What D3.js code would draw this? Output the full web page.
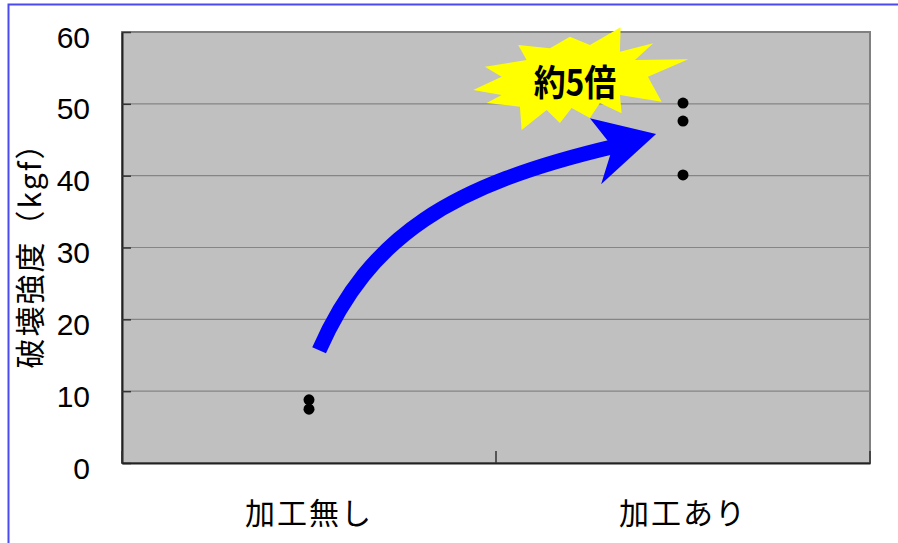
<!DOCTYPE html>
<html lang="ja">
<head>
<meta charset="utf-8">
<title>破壊強度</title>
<script src="https://cdn.jsdelivr.net/npm/d3@7/dist/d3.min.js"></script>
<style>
  html, body { margin: 0; padding: 0; background: #fff; }
  svg { display: block; }
</style>
</head>
<body>
<svg id="chart" width="898" height="543"></svg>
<script>
// Breaking strength (kgf) per sample, untreated vs. treated
const categories = ["加工無し", "加工あり"];
const untreated = [8.8, 7.5];
const treated = [50.1, 47.6, 40.1];
const yTicks = [0, 10, 20, 30, 40, 50, 60];
const yTitle = "破壊強度（kgf）";
const callout = "約5倍";

const svg = d3.select("#chart");
const W = 898, H = 543;
const plot = { left: 122, top: 32, right: 870, bottom: 463 };

const x = d3.scaleBand().domain(categories).range([plot.left, plot.right]);
// continuous position across the category axis (0..2) for annotations
const xu = d3.scaleLinear().domain([0, categories.length]).range([plot.left, plot.right]);
const y = d3.scaleLinear().domain([0, 60]).range([plot.bottom, plot.top]);

// outer frame
svg.append("path")
  .attr("d", `M8.5,${H} V4.5 H${W}`)
  .attr("fill", "none").attr("stroke", "#4a4aee").attr("stroke-width", 2);

// plot area
svg.append("rect")
  .attr("x", plot.left).attr("y", plot.top)
  .attr("width", plot.right - plot.left).attr("height", plot.bottom - plot.top)
  .attr("fill", "#c0c0c0").attr("stroke", "#808080").attr("stroke-width", 2);

// gridlines
svg.append("g").selectAll("line")
  .data(yTicks.filter(d => d > 0 && d < 60))
  .join("line")
  .attr("x1", plot.left).attr("x2", plot.right)
  .attr("y1", d => y(d)).attr("y2", d => y(d))
  .attr("stroke", "#858585").attr("stroke-width", 1.2);

// y axis (ticks point inward)
const yAxis = svg.append("g")
  .attr("transform", `translate(${plot.left},0)`)
  .call(d3.axisLeft(y).tickValues(yTicks).tickSizeInner(-9).tickSizeOuter(0).tickPadding(32));
yAxis.select(".domain").attr("stroke", "#222").attr("stroke-width", 2);
yAxis.selectAll(".tick line").attr("stroke", "#333").attr("stroke-width", 1.5);
yAxis.selectAll(".tick text")
  .attr("font-family", "'Liberation Sans', Arial, sans-serif")
  .attr("font-size", 30).attr("fill", "#000")
  .attr("dy", "0.5em");

// x axis (category boundaries marked inward)
const xAxis = svg.append("g")
  .attr("transform", `translate(0,${plot.bottom})`)
  .call(d3.axisBottom(x).tickSize(0).tickPadding(40));
xAxis.select(".domain").attr("stroke", "#222").attr("stroke-width", 2);
xAxis.selectAll(".tick text")
  .attr("font-family", "'Noto Sans CJK JP', sans-serif")
  .attr("font-size", 30).attr("fill", "#000")
  .attr("letter-spacing", 2);
svg.append("g").selectAll("line")
  .data(d3.range(categories.length + 1))
  .join("line")
  .attr("x1", d => xu(d)).attr("x2", d => xu(d))
  .attr("y1", plot.bottom).attr("y2", plot.bottom - 12)
  .attr("stroke", "#333").attr("stroke-width", 1.5);

// y axis title
svg.append("text")
  .attr("transform", `translate(41,248) rotate(-90)`)
  .attr("text-anchor", "middle")
  .attr("font-family", "'Noto Sans CJK JP', sans-serif")
  .attr("font-size", 30).attr("fill", "#000")
  .attr("letter-spacing", 2)
  .text(yTitle);

// sample points
const pts = [
  ...untreated.map(v => ({ c: categories[0], v })),
  ...treated.map(v => ({ c: categories[1], v }))
];
svg.append("g").selectAll("circle")
  .data(pts)
  .join("circle")
  .attr("cx", d => x(d.c) + x.bandwidth() / 2)
  .attr("cy", d => y(d.v))
  .attr("r", 5.5)
  .attr("fill", "#000");

// curved arrow: shaft (category units, kgf)
const shaft = [[0.527, 15.7], [0.663, 31.7], [0.877, 38.7], [1.318, 44.1]];
const sp = shaft.map(([u, v]) => [xu(u), y(v)]);
svg.append("path")
  .attr("d", `M${sp[0]} C${sp[1]} ${sp[2]} ${sp[3]}`)
  .attr("fill", "none").attr("stroke", "#0000ff").attr("stroke-width", 15);
const head = [[1.251, 48.0], [1.428, 45.8], [1.281, 38.8], [1.312, 44.0]];
svg.append("polygon")
  .attr("points", head.map(([u, v]) => [xu(u), y(v)].join(",")).join(" "))
  .attr("fill", "#0000ff");

// starburst callout
const burstAt = [xu(1.211), y(53.6)];
const burst = [
  [45.7, -50.7], [45, -26.3], [78.3, -34.7], [60, -18], [113.3, -18.7], [73, -1.3],
  [86.7, 23.7], [45, 17], [46.7, 35.3], [25, 25], [15, 40], [-3.3, 30], [-15, 45],
  [-28.3, 32], [-53.3, 52], [-55, 28.7], [-88.3, 25], [-73.3, 17], [-101.7, 12],
  [-73.3, -1.3], [-90, -11.3], [-48.3, -18], [-56.7, -33], [-25, -29.7], [-5, -41.3],
  [15, -33]
];
const bg = svg.append("g").attr("transform", `translate(${burstAt})`);
bg.append("polygon")
  .attr("points", burst.map(p => p.join(",")).join(" "))
  .attr("fill", "#ffff00");
bg.append("text")
  .attr("transform", "translate(0,18) scale(1.1,1.25)")
  .attr("text-anchor", "middle")
  .attr("font-family", "'Noto Sans CJK JP', sans-serif")
  .attr("font-weight", "bold")
  .attr("font-size", 29).attr("fill", "#000")
  .text(callout);
</script>
</body>
</html>
